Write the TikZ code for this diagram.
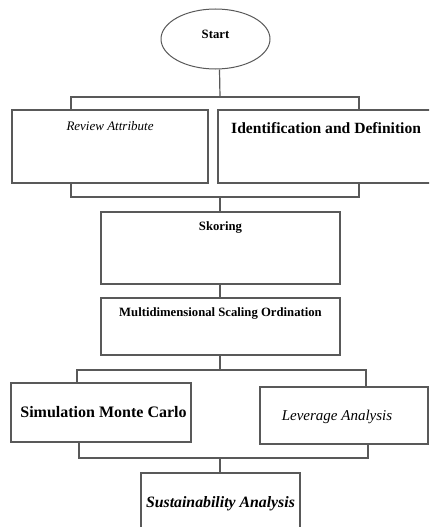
\documentclass[tikz,border=0pt]{standalone}
\usepackage{fontspec}
\setmainfont{Liberation Serif}
\usetikzlibrary{positioning,shapes.geometric}

\begin{document}
\begin{tikzpicture}[
  x=1pt, y=-1pt,
  box/.style={draw=black!65, line width=1.2pt, rectangle, inner sep=0pt},
  oval/.style={draw=black!65, line width=1pt, ellipse, inner sep=0pt, minimum width=109pt, minimum height=60pt},
  link/.style={draw=black!65, line width=1.2pt},
  lbl/.style={inner sep=0pt, font=\fontsize{12.7}{14}\selectfont\bfseries}
]
\useasboundingbox (0,0) rectangle (429,527);
\clip (0,0) rectangle (429,527);

% start
\node[oval, label={[lbl, yshift=5pt]center:Start}] (start) at (215.5,39) {};

% first level
\node[box, minimum width=196pt, minimum height=73pt,
  label={[lbl, font=\fontsize{13}{15}\selectfont\itshape, below=12pt]north:Review Attribute}] (rev) at (110,146.5) {};
\node[box, minimum width=238pt, minimum height=73pt] (ident) at (337,146.5) {};
\node[lbl, font=\fontsize{15.6}{18}\selectfont\bfseries, anchor=west] (identtxt) at (231,128) {Identification and Definition};

\coordinate (j1) at (220,97);
\coordinate (j2) at (220,197);
\draw[link] ([xshift=4pt]start.south) -- (j1);
\draw[link] ([xshift=-39pt]rev.north) |- (j1) -| ([xshift=22pt]ident.north);
\draw[link] ([xshift=-39pt]rev.south) |- (j2) -| ([xshift=22pt]ident.south);

% middle
\node[box, minimum width=239pt, minimum height=72pt,
  label={[lbl, below=10pt]north:Skoring}] (skor) at (220.5,248) {};
\node[box, minimum width=239pt, minimum height=57pt,
  label={[lbl, below=10pt]north:Multidimensional Scaling Ordination}] (mds) at (220.5,326.5) {};
\draw[link] (j2) -- (j2 |- skor.north);
\draw[link] (skor.south -| j2) -- (mds.north -| j2);

% second level
\node[box, minimum width=180pt, minimum height=59pt,
  label={[lbl, font=\fontsize{16}{18}\selectfont\bfseries, xshift=2.5pt, yshift=0.5pt]center:Simulation Monte Carlo}] (sim) at (101,412.5) {};
\node[box, minimum width=168pt, minimum height=57pt,
  label={[lbl, font=\fontsize{15}{17}\selectfont\itshape, xshift=-7pt, yshift=-1.5pt]center:Leverage Analysis}] (lev) at (344,415.5) {};

\coordinate (j3) at (220,370);
\coordinate (j4) at (220,458);
\draw[link] (mds.south -| j3) -- (j3);
\draw[link] ([xshift=-24pt]sim.north) |- (j3) -| ([xshift=22pt]lev.north);
\draw[link] ([xshift=-22pt]sim.south) |- (j4) -| ([xshift=24pt]lev.south);

% end
\node[box, minimum width=159pt, minimum height=72pt,
  label={[lbl, font=\fontsize{15.8}{18}\selectfont\bfseries\itshape, below=24pt]north:Sustainability Analysis}] (sust) at (220.5,509) {};
\draw[link] (j4) -- (j4 |- sust.north);
\end{tikzpicture}
\end{document}
